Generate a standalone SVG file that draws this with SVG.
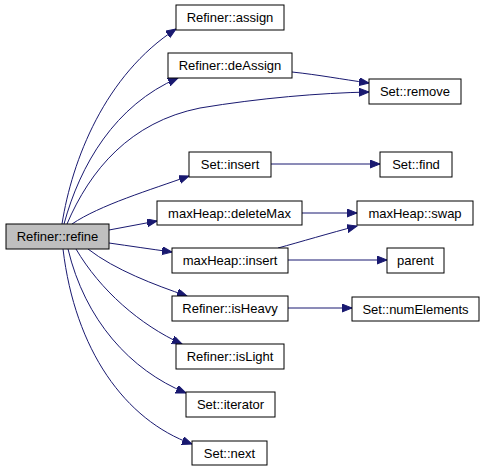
<svg xmlns="http://www.w3.org/2000/svg" width="485" height="469" viewBox="0 0 485 469">
<defs>
<style>
.n rect{fill:#ffffff;stroke:#000000;stroke-width:1}
.n text{font-family:"Liberation Sans",Arial,sans-serif;font-size:13px;fill:#000000;text-anchor:middle}
.e path{fill:none;stroke:#191970;stroke-width:1}
</style>
<marker id="ah" markerUnits="userSpaceOnUse" markerWidth="12" markerHeight="10" refX="10" refY="4" orient="auto">
<path d="M0,0 L10,4 L0,8 Z" fill="#191970" stroke="#191970"/>
</marker>
</defs>
<rect width="485" height="469" fill="#ffffff"/>
<g id="edges" class="e">
<path d="M62,224 C72,160 105,75 176,29" marker-end="url(#ah)"/>
<path d="M64,224 C80,165 115,105 178,78" marker-end="url(#ah)"/>
<path d="M67,224 C90,170 130,122 200,108 C260,98 320,93 369,92" marker-end="url(#ah)"/>
<path d="M72,224 C100,205 150,190 189,176" marker-end="url(#ah)"/>
<path d="M109,230 L157,221" marker-end="url(#ah)"/>
<path d="M109,243 C130,246 150,249 172,252" marker-end="url(#ah)"/>
<path d="M88,249 C115,270 155,285 187,296" marker-end="url(#ah)"/>
<path d="M76,249 C100,290 140,325 182,344" marker-end="url(#ah)"/>
<path d="M68,249 C85,320 130,370 186,393" marker-end="url(#ah)"/>
<path d="M63,249 C75,350 125,420 192,444" marker-end="url(#ah)"/>
<path d="M292,72 C320,75 340,79 369,83" marker-end="url(#ah)"/>
<path d="M271,164 L380,164" marker-end="url(#ah)"/>
<path d="M302,213 L357,213" marker-end="url(#ah)"/>
<path d="M278,248 C300,242 330,233 357,226" marker-end="url(#ah)"/>
<path d="M288,260 L387,260" marker-end="url(#ah)"/>
<path d="M288,308 L352,308" marker-end="url(#ah)"/>
</g>
<g id="refine" class="n"><rect x="6" y="224" width="103" height="25" style="fill:#bfbfbf"/><text x="57.5" y="241">Refiner::refine</text></g>
<g id="assign" class="n"><rect x="176" y="5" width="108" height="25"/><text x="230" y="22">Refiner::assign</text></g>
<g id="deAssign" class="n"><rect x="168" y="53" width="124" height="25"/><text x="230" y="70">Refiner::deAssign</text></g>
<g id="remove" class="n"><rect x="369" y="79" width="92" height="25"/><text x="415" y="96">Set::remove</text></g>
<g id="setinsert" class="n"><rect x="189" y="152" width="82" height="25"/><text x="230" y="169">Set::insert</text></g>
<g id="find" class="n"><rect x="380" y="152" width="72" height="25"/><text x="416" y="169">Set::find</text></g>
<g id="deleteMax" class="n"><rect x="157" y="201" width="145" height="24"/><text x="229.5" y="218">maxHeap::deleteMax</text></g>
<g id="swap" class="n"><rect x="357" y="201" width="116" height="24"/><text x="415" y="218">maxHeap::swap</text></g>
<g id="heapinsert" class="n"><rect x="172" y="248" width="116" height="25"/><text x="230" y="265">maxHeap::insert</text></g>
<g id="parent" class="n"><rect x="387" y="248" width="57" height="25"/><text x="415.5" y="265">parent</text></g>
<g id="isHeavy" class="n"><rect x="172" y="296" width="116" height="25"/><text x="230" y="313">Refiner::isHeavy</text></g>
<g id="numElements" class="n"><rect x="352" y="297" width="127" height="24"/><text x="415.5" y="314">Set::numElements</text></g>
<g id="isLight" class="n"><rect x="176" y="344" width="108" height="25"/><text x="230" y="361">Refiner::isLight</text></g>
<g id="iterator" class="n"><rect x="186" y="392" width="89" height="25"/><text x="230.5" y="409">Set::iterator</text></g>
<g id="next" class="n"><rect x="192" y="441" width="75" height="24"/><text x="229.5" y="458">Set::next</text></g>
</svg>
